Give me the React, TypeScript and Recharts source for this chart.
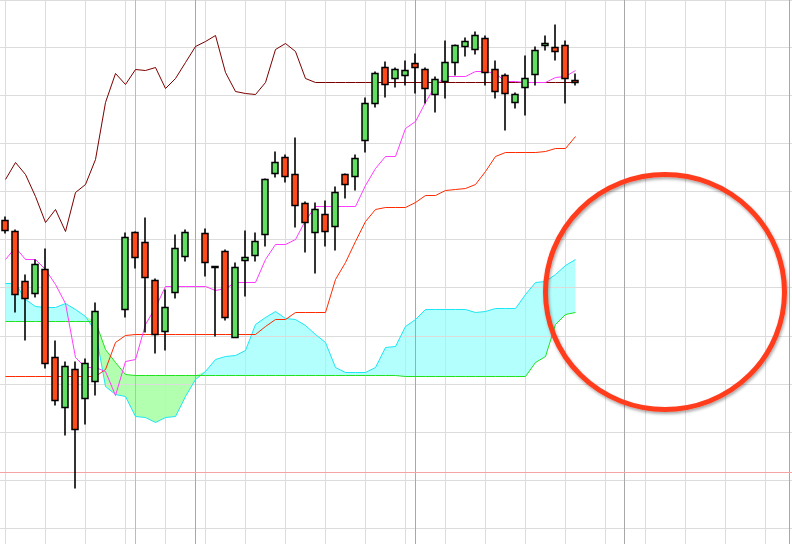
import { ComposedChart, Bar, Line, Area, XAxis, YAxis, ReferenceLine } from "recharts";

// session index (one candle per 10px)
const sessions = [
  0, 1, 2, 3, 4, 5, 6, 7, 8, 9, 10, 11, 12, 13, 14, 15, 16, 17, 18, 19,
  20, 21, 22, 23, 24, 25, 26, 27, 28, 29, 30, 31, 32, 33, 34, 35, 36, 37, 38, 39,
  40, 41, 42, 43, 44, 45, 46, 47, 48, 49, 50, 51, 52, 53, 54, 55, 56, 57,
];

const opens = [
  323, 312, 262, 250, 274, 186, 136, 174, 145, 162, 232, 232, 234, 311, 301, 263, 212, 251, 287, 311,
  310, 277, 292, 206, 283, 288, 309, 370, 386, 369, 340, 311, 329, 317, 369, 367, 403, 440, 476, 465,
  468, 480, 474, 449, 462, 481, 497, 494, 505, 474, 468, 441, 456, 469, 498, 496, 498, 463,
];
const highs = [
  327, 314, 269, 284, 295, 203, 182, 182, 185, 241, 232, 232, 311, 312, 326, 265, 254, 309, 314, 311,
  315, 277, 294, 281, 313, 311, 365, 392, 389, 406, 342, 341, 343, 357, 370, 389, 446, 472, 482, 476,
  483, 490, 476, 467, 503, 499, 506, 512, 508, 483, 470, 451, 488, 497, 508, 519, 503, 470,
];
const lows = [
  310, 231, 203, 246, 175, 138, 108, 55, 119, 148, 232, 232, 226, 275, 211, 190, 193, 245, 282, 311,
  267, 207, 223, 206, 247, 282, 297, 366, 361, 316, 291, 270, 297, 293, 345, 353, 391, 436, 446, 456,
  458, 450, 440, 431, 445, 468, 487, 489, 458, 445, 413, 435, 428, 458, 493, 483, 440, 458,
];
const closes = [
  313, 249, 245, 279, 180, 143, 177, 114, 180, 232, 232, 232, 306, 286, 266, 209, 236, 295, 311, 311,
  281, 276, 226, 276, 286, 302, 364, 381, 367, 338, 321, 334, 312, 351, 359, 385, 440, 470, 459, 474,
  473, 476, 455, 464, 481, 498, 502, 508, 471, 452, 450, 449, 465, 493, 500, 492, 465, 461,
];

// ichimoku lines
const tenkan = [
  284, 296, 284, 284, 274, 259, 240, 186, 176, 176, 172, 148, 182, 184, 219, 236, 257, 257, 257, 257,
  257, 253, 255, 261, 261, 261, 284, 299, 299, 304, 323, 337, 337, 337, 337, 337, 358, 375, 387, 387,
  415, 422, 441, 458, 467, 467, 467, 472, 472, 470, 462, 462, 461, 461, 461, 466, 467, 473,
];
const kijun = [
  167, 167, 167, 167, 167, 167, 167, 167, 167, 167, 174, 201, 208, 209, 209, 209, 209, 209, 209, 209,
  209, 209, 209, 209, 209, 209, 217, 224, 224, 231, 231, 231, 231, 264, 281, 302, 322, 334, 336, 336,
  336, 341, 348, 348, 353, 354, 355, 359, 372, 387, 391, 391, 391, 391, 392, 395, 395, 407,
];
const lagging = [
  364, 381, 369, 347, 321, 334, 312, 351, 359, 384, 441, 470, 459, 474, 473, 476, 455, 465, 481, 497,
  502, 508, 471, 452, 450, 449, 461, 494, 500, 492, 465, 461, 461, 461, 461, 461, 461, 461, 461, 461,
  461, 461, 461, 461, 461, 461, 461, 461, 461, 461, 461, 461, 461, 461, 461, 461, 461, 461,
];
const spanA = [
  260, 260, 244, 237, 236, 236, 240, 234, 227, 212, 157, 149, 147, 127, 126, 121, 126, 127, 147, 164,
  172, 184, 187, 188, 193, 219, 226, 232, 225, 224, 218, 209, 201, 176, 171, 171, 171, 176, 196, 197,
  217, 224, 234, 234, 234, 234, 234, 231, 232, 235, 235, 235, 249, 261, 262, 269, 278, 284,
];
const spanB = [
  222, 222, 222, 222, 222, 222, 222, 222, 222, 222, 194, 181, 169, 168, 168, 168, 168, 168, 168, 168,
  168, 168, 168, 168, 168, 168, 168, 168, 168, 168, 168, 168, 168, 168, 168, 168, 168, 168, 168, 168,
  167, 167, 167, 167, 167, 167, 167, 167, 167, 167, 167, 167, 167, 181, 187, 219, 229, 231,
];

// grid positions
const gridSessions = [0, 4, 8, 12, 16, 20, 24, 28, 32, 36, 40, 44, 48, 52, 56, 60, 64, 68, 72, 76];
const gridLevels = [543, 496, 448, 400, 352, 304, 256, 207, 159, 111, 63, 15];
const markerSessions = [19, 41, 61.9, 78.4];
const pinkSession = 13;
const pinkLevel = 71;

const rows = sessions.map((s, k) => ({
  s,
  open: opens[k],
  high: highs[k],
  low: lows[k],
  close: closes[k],
  tenkan: tenkan[k],
  kijun: kijun[k],
  lagging: lagging[k],
  spanA: spanA[k],
  spanB: spanB[k],
  cyanBand: [spanB[k], Math.max(spanA[k], spanB[k])],
  greenBand: [spanA[k], Math.max(spanA[k], spanB[k])],
}));

function Candle(props: any) {
  const { x, y, width, height, payload } = props;
  if (!payload) return null;
  const cx = x + width / 2;
  const yHigh = Math.min(y, y + height);
  const yLow = Math.max(y, y + height);
  const span = payload.high - payload.low;
  const toY = (v: number) => (span === 0 ? yHigh : yHigh + ((payload.high - v) / span) * (yLow - yHigh));
  const top = toY(Math.max(payload.open, payload.close));
  const bot = toY(Math.min(payload.open, payload.close));
  const up = payload.close > payload.open;
  return (
    <g>
      <line x1={cx} x2={cx} y1={yHigh} y2={yLow} stroke="#000" strokeWidth={1.6} />
      <rect
        x={cx - 3}
        y={top}
        width={6}
        height={Math.max(bot - top, 0)}
        fill={up ? "#62df62" : "#ff4a1a"}
        stroke="#000"
        strokeWidth={1.5}
      />
    </g>
  );
}

const lineProps = {
  type: "linear" as const,
  strokeWidth: 1,
  dot: false,
  activeDot: false,
  isAnimationActive: false,
};

export default function App() {
  return (
    <div style={{ position: "fixed", left: 0, top: 0, width: 792, height: 544, background: "#fff" }}>
      <ComposedChart width={792} height={544} data={rows} margin={{ top: 0, right: 0, bottom: 0, left: 0 }}>
        <XAxis dataKey="s" type="number" domain={[-0.55, 78.65]} hide />
        <YAxis type="number" domain={[-0.5, 543.5]} hide />
        {gridSessions.map((g) => (
          <ReferenceLine key={"v" + g} x={g} stroke="#dcdcdc" strokeWidth={1} />
        ))}
        {gridLevels.map((g) => (
          <ReferenceLine key={"h" + g} y={g} stroke="#dcdcdc" strokeWidth={1} />
        ))}
        {markerSessions.map((g) => (
          <ReferenceLine key={"m" + g} x={g} stroke="#a8a8a8" strokeWidth={1} />
        ))}
        <ReferenceLine x={pinkSession} stroke="#f4a4a4" strokeWidth={1} />
        <ReferenceLine y={pinkLevel} stroke="#f4a4a4" strokeWidth={1} />
        <Area
          type="linear"
          dataKey="cyanBand"
          fill="#b3fffd"
          fillOpacity={1}
          stroke="none"
          activeDot={false}
          isAnimationActive={false}
        />
        <Area
          type="linear"
          dataKey="greenBand"
          fill="#b3ffb0"
          fillOpacity={1}
          stroke="none"
          activeDot={false}
          isAnimationActive={false}
        />
        <Line {...lineProps} dataKey="spanA" stroke="#1ee6f2" />
        <Line {...lineProps} dataKey="spanB" stroke="#22e022" />
        <Line {...lineProps} dataKey="kijun" stroke="#ff2a00" />
        <Line {...lineProps} dataKey="lagging" stroke="#7a0000" />
        <Line {...lineProps} dataKey="tenkan" stroke="#ff3dff" />
        <Bar
          dataKey={(d: any) => [d.low, d.high]}
          barSize={7}
          shape={<Candle />}
          zIndex={700}
          isAnimationActive={false}
        />
      </ComposedChart>
      <svg
        width={792}
        height={544}
        style={{ position: "absolute", left: 0, top: 0, pointerEvents: "none" }}
      >
        <defs>
          <filter id="circleShadow" x="-10%" y="-10%" width="120%" height="120%">
            <feDropShadow dx="1" dy="2" stdDeviation="1.5" floodColor="#000" floodOpacity="0.35" />
          </filter>
        </defs>
        <ellipse
          cx={665}
          cy={292}
          rx={119.5}
          ry={117.5}
          fill="none"
          stroke="#ff3d1f"
          strokeWidth={5}
          filter="url(#circleShadow)"
        />
      </svg>
    </div>
  );
}
